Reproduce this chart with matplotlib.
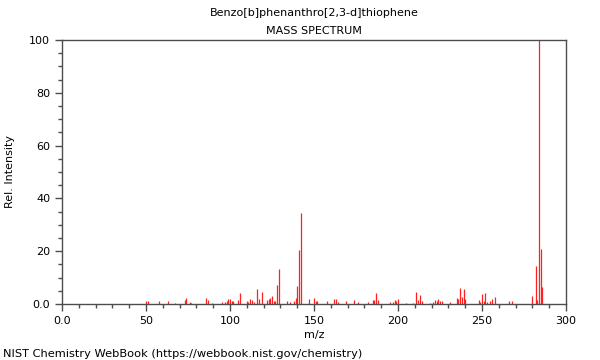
import matplotlib
matplotlib.use("Agg")
import matplotlib.pyplot as plt
from matplotlib.ticker import MultipleLocator, FuncFormatter

# m/z values and relative intensities
mz = [50, 51, 58, 63, 67, 73, 74, 76, 77, 86, 87, 89, 95, 97, 98, 99, 100,
      101, 102, 105, 106, 110, 111, 112, 113, 114, 116, 117, 119, 122, 123,
      124, 125, 126, 127, 128, 129, 134, 136, 138, 139, 140, 141, 142, 147,
      150, 151, 152, 158, 162, 163, 164, 169, 174, 176, 182, 185, 186, 187,
      188, 195, 197, 198, 199, 200, 205, 209, 211, 212, 213, 214, 219, 221,
      222, 223, 224, 225, 226, 231, 235, 236, 237, 238, 239, 240, 248, 249,
      250, 251, 252, 253, 255, 256, 258, 266, 268, 280, 282, 283, 284, 285,
      286]
intensity = [1.1, 1.0, 1.0, 1.1, 0.5, 1.6, 2.3, 0.8, 0.5, 2.3, 1.5, 0.5,
             0.6, 0.8, 1.3, 1.9, 2.0, 1.0, 1.0, 1.6, 4.3, 1.3, 0.9, 1.9,
             1.5, 0.8, 5.7, 2.0, 4.7, 1.4, 1.8, 2.3, 3.2, 1.1, 1.3, 7.2,
             13.1, 1.1, 0.6, 1.3, 2.3, 6.9, 20.4, 34.3, 1.8, 2.3, 1.3, 1.0,
             1.3, 2.0, 1.8, 0.6, 1.1, 1.6, 0.8, 0.9, 1.4, 1.4, 4.0, 1.4,
             0.6, 0.9, 1.5, 1.0, 1.8, 0.3, 0.5, 4.4, 1.5, 3.5, 1.0, 0.5,
             0.8, 1.5, 1.0, 2.0, 1.3, 1.1, 0.9, 2.4, 1.8, 6.0, 2.8, 5.7,
             2.0, 1.4, 0.8, 3.8, 1.0, 4.2, 0.9, 1.3, 2.0, 2.5, 1.1, 1.3,
             2.9, 14.5, 1.5, 100.0, 21.0, 6.6]

title = "Benzo[b]phenanthro[2,3-d]thiophene"
subtitle = "MASS SPECTRUM"
footer = "NIST Chemistry WebBook (https://webbook.nist.gov/chemistry)"

plt.rcParams["font.family"] = "DejaVu Sans"
plt.rcParams["font.size"] = 8

fig = plt.figure(figsize=(6, 3.6), dpi=100)
ax = fig.add_axes([0.1033, 0.1556, 0.84, 0.7333])

ax.vlines(mz, 0, intensity, colors="#ff2020", linewidth=0.9)

ax.set_xlim(0, 300)
ax.set_ylim(0, 100)
ax.xaxis.set_major_locator(MultipleLocator(50))
ax.xaxis.set_minor_locator(MultipleLocator(10))
ax.yaxis.set_major_locator(MultipleLocator(20))
ax.yaxis.set_minor_locator(MultipleLocator(5))
fmt = FuncFormatter(lambda v, p: "0.0" if v == 0 else f"{v:g}")
ax.xaxis.set_major_formatter(fmt)
ax.yaxis.set_major_formatter(fmt)

for s in ax.spines.values():
    s.set_color("#4d4d4d")
    s.set_linewidth(1.0)
ax.tick_params(which="major", length=5, color="#4d4d4d", width=1, labelsize=8)
ax.tick_params(which="minor", length=3, color="#4d4d4d", width=1)

ax.set_xlabel("m/z", fontsize=8, labelpad=3)
ax.set_ylabel("Rel. Intensity", fontsize=8, labelpad=10)

fig.text(0.5233, 0.963, title, ha="center", va="center", fontsize=8)
fig.text(0.5233, 0.915, subtitle, ha="center", va="center", fontsize=8)
fig.text(0.005, 0.018, footer, ha="left", va="center", fontsize=8.2)

fig.savefig("out.png", dpi=100)
